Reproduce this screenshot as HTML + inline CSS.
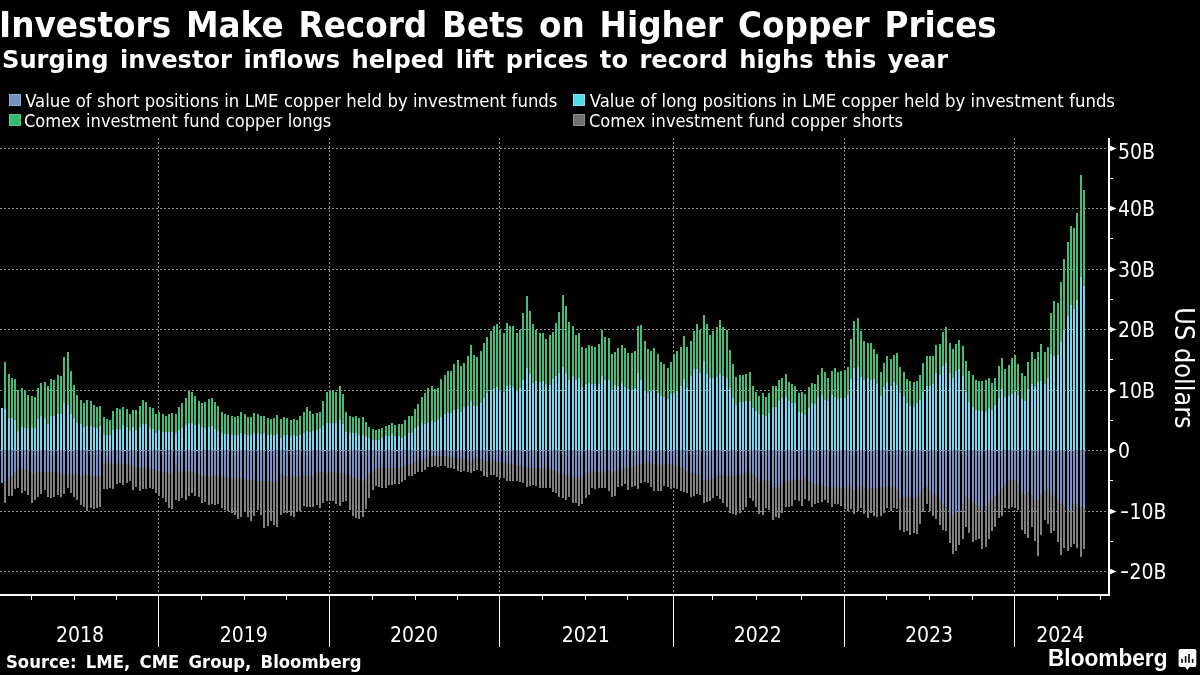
<!DOCTYPE html>
<html lang="en"><head><meta charset="utf-8"><title>Investors Make Record Bets on Higher Copper Prices</title>
<style>
html,body{margin:0;padding:0;background:#000;}
body{width:1200px;height:675px;position:relative;overflow:hidden;color:#fff;font-family:"DejaVu Sans","Liberation Sans",sans-serif;}
.t{position:absolute;white-space:nowrap;line-height:1;}
#title{left:-0.8px;top:7.2px;font-weight:bold;font-size:35.2px;word-spacing:3.64px;transform:scaleX(0.9298);transform-origin:0 0;}
#sub{left:2px;top:47px;font-weight:bold;font-size:25.4px;word-spacing:3.2px;transform:scaleX(0.9511);transform-origin:0 0;}
.lg{position:absolute;white-space:nowrap;line-height:1;font-family:"DejaVu Sans Condensed","DejaVu Sans","Liberation Sans",sans-serif;font-size:18.35px;word-spacing:0.5px;transform:scaleX(0.985);transform-origin:0 0;}
.sw{position:absolute;width:12px;height:12px;box-sizing:border-box;border:1px solid;}
.yl{position:absolute;left:1118px;white-space:nowrap;font-family:"DejaVu Sans Condensed","DejaVu Sans","Liberation Sans",sans-serif;font-size:21px;line-height:25px;height:25px;}
.xl{position:absolute;top:623px;width:80px;text-align:center;white-space:nowrap;font-family:"DejaVu Sans Condensed","DejaVu Sans","Liberation Sans",sans-serif;font-size:21px;line-height:25px;}
#usd{position:absolute;left:1183.7px;top:367.8px;width:0;height:0;}
#usd span{position:absolute;white-space:nowrap;font-family:"DejaVu Sans Condensed","DejaVu Sans","Liberation Sans",sans-serif;font-size:26.8px;line-height:26.8px;transform:translate(-50%,-50%) rotate(90deg);transform-origin:center;display:block;left:0;top:0;}
#src{left:5.5px;top:652.8px;font-weight:bold;font-size:17.8px;word-spacing:3.78px;transform:scaleX(0.9271);transform-origin:0 0;}
#bb{left:1047.7px;top:646.2px;font-family:"Liberation Sans",sans-serif;font-weight:bold;font-size:24.2px;transform:scaleX(0.936);transform-origin:0 0;}
</style></head><body>
<svg width="1200" height="675" viewBox="0 0 1200 675" style="position:absolute;left:0;top:0"><g stroke="#969696" stroke-width="1" stroke-dasharray="2 2" shape-rendering="crispEdges" fill="none"><path d="M0 148.5H1108"/><path d="M0 208.5H1108"/><path d="M0 269.5H1108"/><path d="M0 329.5H1108"/><path d="M0 390.5H1108"/><path d="M0 450.5H1108"/><path d="M0 511.5H1108"/><path d="M0 571.5H1108"/><path d="M158.5 138V594"/><path d="M329.5 138V594"/><path d="M499.5 138V594"/><path d="M673.5 138V594"/><path d="M844.5 138V594"/><path d="M1014.5 138V594"/></g><g shape-rendering="crispEdges"><path fill="#44bd79" d="M4 361.7v47.5h2v-47.5zM8 374.2v43.3h2v-43.3zM11 378.0v40.3h2v-40.3zM14 379.2v40.8h2v-40.8zM17 390.0v41.7h2v-41.7zM21 388.3v38.4h2v-38.4zM24 390.5v37.0h2v-37.0zM27 395.0v33.3h2v-33.3zM31 396.3v30.4h2v-30.4zM34 397.0v31.0h2v-31.0zM37 388.3v30.9h2v-30.9zM40 383.0v32.8h2v-32.8zM44 382.0v35.5h2v-35.5zM47 385.8v38.4h2v-38.4zM50 379.2v36.6h2v-36.6zM53 380.0v35.8h2v-35.8zM57 375.0v39.2h2v-39.2zM60 375.8v38.4h2v-38.4zM63 357.2v45.8h2v-45.8zM67 352.0v53.0h2v-53.0zM70 370.8v43.4h2v-43.4zM73 385.0v33.3h2v-33.3zM76 395.0v27.5h2v-27.5zM80 400.0v24.2h2v-24.2zM83 403.0v23.7h2v-23.7zM86 400.0v25.8h2v-25.8zM90 401.3v24.5h2v-24.5zM93 405.0v21.7h2v-21.7zM96 407.0v20.5h2v-20.5zM99 406.2v20.1h2v-20.1zM103 417.0v18.3h2v-18.3zM106 419.2v15.8h2v-15.8zM109 420.0v15.0h2v-15.0zM112 410.8v19.2h2v-19.2zM116 408.0v21.2h2v-21.2zM119 408.7v21.3h2v-21.3zM122 407.0v18.0h2v-18.0zM126 409.2v17.5h2v-17.5zM129 414.2v16.6h2v-16.6zM132 410.0v16.7h2v-16.7zM135 410.0v20.0h2v-20.0zM139 405.8v20.9h2v-20.9zM142 400.0v24.2h2v-24.2zM145 402.0v22.2h2v-22.2zM149 407.0v20.5h2v-20.5zM152 408.0v21.2h2v-21.2zM155 414.2v18.8h2v-18.8zM158 411.7v18.3h2v-18.3zM162 414.2v17.5h2v-17.5zM165 415.8v16.2h2v-16.2zM168 414.2v17.5h2v-17.5zM171 413.0v19.0h2v-19.0zM175 414.2v19.1h2v-19.1zM178 407.0v23.0h2v-23.0zM181 403.0v25.3h2v-25.3zM185 398.0v27.0h2v-27.0zM188 390.0v32.5h2v-32.5zM191 392.0v31.0h2v-31.0zM194 396.2v28.8h2v-28.8zM198 401.2v23.0h2v-23.0zM201 403.3v23.4h2v-23.4zM204 402.0v25.5h2v-25.5zM208 399.2v27.5h2v-27.5zM211 398.3v28.0h2v-28.0zM214 402.0v26.8h2v-26.8zM217 406.2v24.6h2v-24.6zM221 412.2v20.8h2v-20.8zM224 413.8v19.9h2v-19.9zM227 415.0v19.2h2v-19.2zM231 415.8v19.2h2v-19.2zM234 417.0v18.0h2v-18.0zM237 415.8v19.2h2v-19.2zM240 412.2v20.3h2v-20.3zM244 414.2v19.5h2v-19.5zM247 417.0v18.0h2v-18.0zM250 417.0v18.0h2v-18.0zM253 413.0v20.0h2v-20.0zM257 414.2v19.1h2v-19.1zM260 415.8v17.9h2v-17.9zM263 415.8v17.2h2v-17.2zM267 418.0v17.0h2v-17.0zM270 419.2v15.8h2v-15.8zM273 418.0v17.0h2v-17.0zM276 415.3v18.4h2v-18.4zM280 419.2v19.1h2v-19.1zM283 417.0v18.3h2v-18.3zM286 418.0v17.3h2v-17.3zM290 420.0v15.8h2v-15.8zM293 419.2v15.8h2v-15.8zM296 420.0v15.8h2v-15.8zM299 416.2v18.8h2v-18.8zM303 412.0v21.3h2v-21.3zM306 407.0v23.8h2v-23.8zM309 411.2v20.5h2v-20.5zM312 413.8v17.0h2v-17.0zM316 413.0v17.0h2v-17.0zM319 412.0v17.2h2v-17.2zM322 401.2v25.0h2v-25.0zM326 392.0v30.8h2v-30.8zM329 390.0v32.5h2v-32.5zM332 390.5v32.3h2v-32.3zM335 392.0v30.8h2v-30.8zM339 386.2v33.8h2v-33.8zM342 394.2v30.0h2v-30.0zM345 412.0v19.7h2v-19.7zM349 416.2v16.8h2v-16.8zM352 417.0v16.0h2v-16.0zM355 416.2v17.1h2v-17.1zM358 418.0v17.0h2v-17.0zM362 417.0v18.0h2v-18.0zM365 422.0v13.8h2v-13.8zM368 427.0v11.3h2v-11.3zM372 429.2v10.3h2v-10.3zM375 430.0v10.0h2v-10.0zM378 429.2v10.3h2v-10.3zM381 428.3v10.0h2v-10.0zM385 426.2v10.1h2v-10.1zM388 425.0v10.8h2v-10.8zM391 423.0v11.2h2v-11.2zM394 425.0v10.8h2v-10.8zM398 424.2v11.6h2v-11.6zM401 424.2v13.3h2v-13.3zM404 420.0v15.8h2v-15.8zM408 416.2v17.1h2v-17.1zM411 416.2v16.3h2v-16.3zM414 409.2v18.3h2v-18.3zM417 404.2v21.6h2v-21.6zM421 397.2v26.1h2v-26.1zM424 393.0v30.8h2v-30.8zM427 388.3v34.5h2v-34.5zM431 386.3v34.9h2v-34.9zM434 389.2v32.5h2v-32.5zM437 388.3v32.0h2v-32.0zM440 379.2v37.5h2v-37.5zM444 375.0v39.2h2v-39.2zM447 371.3v41.2h2v-41.2zM450 371.3v41.5h2v-41.5zM453 364.2v46.1h2v-46.1zM457 360.3v48.9h2v-48.9zM460 366.2v45.5h2v-45.5zM463 363.3v43.4h2v-43.4zM467 356.2v49.3h2v-49.3zM470 345.0v56.2h2v-56.2zM473 355.3v50.5h2v-50.5zM476 357.2v49.0h2v-49.0zM480 351.2v51.3h2v-51.3zM483 343.3v55.0h2v-55.0zM486 337.2v55.8h2v-55.8zM490 330.8v59.2h2v-59.2zM493 326.2v61.6h2v-61.6zM496 324.2v63.0h2v-63.0zM499 329.5v61.3h2v-61.3zM503 333.0v58.7h2v-58.7zM506 323.0v62.8h2v-62.8zM509 325.8v58.9h2v-58.9zM512 325.8v61.2h2v-61.2zM516 333.0v57.8h2v-57.8zM519 330.0v58.3h2v-58.3zM522 313.0v67.0h2v-67.0zM526 296.2v71.8h2v-71.8zM529 311.2v63.0h2v-63.0zM532 324.2v58.3h2v-58.3zM535 330.0v51.3h2v-51.3zM539 333.3v48.4h2v-48.4zM542 333.3v47.5h2v-47.5zM545 339.2v45.0h2v-45.0zM549 335.0v49.7h2v-49.7zM552 332.2v47.0h2v-47.0zM555 323.0v52.8h2v-52.8zM558 312.0v60.8h2v-60.8zM562 295.0v72.0h2v-72.0zM565 306.2v66.3h2v-66.3zM568 322.2v57.3h2v-57.3zM572 326.2v49.6h2v-49.6zM575 335.0v45.0h2v-45.0zM578 333.3v45.0h2v-45.0zM581 347.2v39.5h2v-39.5zM585 348.0v36.2h2v-36.2zM588 345.3v38.0h2v-38.0zM591 346.3v37.9h2v-37.9zM594 347.2v36.5h2v-36.5zM598 344.0v39.7h2v-39.7zM601 329.5v46.3h2v-46.3zM604 337.2v42.8h2v-42.8zM608 338.3v41.7h2v-41.7zM611 354.2v35.8h2v-35.8zM614 352.0v33.0h2v-33.0zM617 348.3v37.5h2v-37.5zM621 345.0v38.0h2v-38.0zM624 348.0v39.0h2v-39.0zM627 353.0v36.2h2v-36.2zM631 353.0v37.0h2v-37.0zM634 351.2v37.1h2v-37.1zM637 326.2v47.1h2v-47.1zM640 325.0v54.5h2v-54.5zM644 341.2v49.6h2v-49.6zM647 349.2v43.3h2v-43.3zM650 351.2v39.6h2v-39.6zM653 348.0v42.0h2v-42.0zM657 354.2v39.1h2v-39.1zM660 362.0v33.8h2v-33.8zM663 364.2v32.5h2v-32.5zM667 368.0v31.2h2v-31.2zM670 362.0v32.2h2v-32.2zM673 354.2v38.3h2v-38.3zM676 351.2v39.6h2v-39.6zM680 347.2v38.6h2v-38.6zM683 336.2v43.0h2v-43.0zM686 347.2v40.3h2v-40.3zM690 341.2v34.6h2v-34.6zM693 330.8v38.4h2v-38.4zM696 324.2v45.0h2v-45.0zM699 329.5v43.8h2v-43.8zM703 315.0v45.8h2v-45.8zM706 324.2v50.0h2v-50.0zM709 335.0v43.0h2v-43.0zM712 330.8v47.2h2v-47.2zM716 327.0v50.0h2v-50.0zM719 320.0v54.2h2v-54.2zM722 327.0v48.8h2v-48.8zM726 330.0v48.0h2v-48.0zM729 350.0v38.3h2v-38.3zM732 364.2v33.3h2v-33.3zM735 377.0v28.0h2v-28.0zM739 375.0v26.7h2v-26.7zM742 375.0v27.0h2v-27.0zM745 374.2v27.1h2v-27.1zM749 372.0v29.3h2v-29.3zM752 386.2v21.8h2v-21.8zM755 392.0v18.8h2v-18.8zM758 395.8v18.4h2v-18.4zM762 393.0v22.3h2v-22.3zM765 397.0v19.2h2v-19.2zM768 393.0v20.3h2v-20.3zM772 385.8v21.2h2v-21.2zM775 386.2v20.5h2v-20.5zM778 380.0v20.8h2v-20.8zM781 378.0v20.3h2v-20.3zM785 374.2v22.5h2v-22.5zM788 382.0v19.3h2v-19.3zM791 384.2v18.3h2v-18.3zM794 386.2v17.1h2v-17.1zM798 393.0v18.7h2v-18.7zM801 392.0v20.8h2v-20.8zM804 394.2v20.8h2v-20.8zM808 387.0v20.5h2v-20.5zM811 383.0v20.0h2v-20.0zM814 384.2v19.6h2v-19.6zM817 375.3v21.4h2v-21.4zM821 368.0v27.0h2v-27.0zM824 372.0v28.0h2v-28.0zM827 378.0v23.2h2v-23.2zM831 371.2v23.8h2v-23.8zM834 368.0v28.7h2v-28.7zM837 372.0v27.2h2v-27.2zM840 371.2v26.8h2v-26.8zM844 370.0v27.5h2v-27.5zM847 367.0v28.0h2v-28.0zM850 339.2v39.5h2v-39.5zM853 321.2v46.8h2v-46.8zM857 318.0v49.0h2v-49.0zM860 331.2v45.8h2v-45.8zM863 341.2v38.8h2v-38.8zM867 343.0v35.3h2v-35.3zM870 343.0v37.0h2v-37.0zM873 349.2v30.0h2v-30.0zM876 354.2v30.0h2v-30.0zM880 372.0v24.2h2v-24.2zM883 363.0v23.7h2v-23.7zM886 356.2v26.0h2v-26.0zM890 359.2v27.0h2v-27.0zM893 355.0v26.7h2v-26.7zM896 353.0v32.0h2v-32.0zM899 367.0v26.3h2v-26.3zM903 372.0v24.2h2v-24.2zM906 379.2v23.8h2v-23.8zM909 381.2v24.6h2v-24.6zM913 382.0v25.0h2v-25.0zM916 381.2v22.1h2v-22.1zM919 375.0v25.0h2v-25.0zM922 363.0v28.7h2v-28.7zM926 356.2v29.6h2v-29.6zM929 356.2v29.6h2v-29.6zM932 356.2v28.0h2v-28.0zM935 345.0v28.0h2v-28.0zM939 344.2v30.8h2v-30.8zM942 332.0v33.8h2v-33.8zM945 327.0v36.0h2v-36.0zM949 343.0v30.0h2v-30.0zM952 348.8v29.2h2v-29.2zM955 344.2v26.6h2v-26.6zM958 340.0v28.7h2v-28.7zM962 346.2v29.6h2v-29.6zM965 361.2v30.5h2v-30.5zM968 371.2v30.8h2v-30.8zM972 375.0v32.0h2v-32.0zM975 380.0v30.0h2v-30.0zM978 381.2v30.0h2v-30.0zM981 381.2v30.0h2v-30.0zM985 380.0v31.7h2v-31.7zM988 378.0v30.3h2v-30.3zM991 383.0v27.0h2v-27.0zM994 378.0v27.0h2v-27.0zM998 366.2v31.3h2v-31.3zM1001 358.3v30.7h2v-30.7zM1004 369.0v28.3h2v-28.3zM1008 365.2v30.4h2v-30.4zM1011 357.9v36.0h2v-36.0zM1014 355.3v36.2h2v-36.2zM1017 364.1v30.7h2v-30.7zM1021 373.2v25.7h2v-25.7zM1024 376.0v24.6h2v-24.6zM1027 361.9v27.1h2v-27.1zM1031 352.1v31.9h2v-31.9zM1034 359.1v28.2h2v-28.2zM1037 352.1v29.4h2v-29.4zM1040 344.1v36.6h2v-36.6zM1044 352.1v31.9h2v-31.9zM1047 347.0v31.2h2v-31.2zM1050 313v41.1h2v-41.1zM1053 301v54.8h2v-54.8zM1057 303v51.9h2v-51.9zM1060 281.8v60.2h2v-60.2zM1063 259v70.6h2v-70.6zM1067 242.1v73.4h2v-73.4zM1070 226v78.7h2v-78.7zM1073 228v80.9h2v-80.9zM1076 213.1v86.7h2v-86.7zM1080 175.3v102.1h2v-102.1zM1083 190.2v95.5h2v-95.5z"/><path fill="#76d8f0" d="M1 408.0v42.0h2v-42.0zM4 409.2v40.8h2v-40.8zM8 417.5v32.5h2v-32.5zM11 418.3v31.7h2v-31.7zM14 420.0v30.0h2v-30.0zM17 431.7v18.3h2v-18.3zM21 426.7v23.3h2v-23.3zM24 427.5v22.5h2v-22.5zM27 428.3v21.7h2v-21.7zM31 426.7v23.3h2v-23.3zM34 428.0v22.0h2v-22.0zM37 419.2v30.8h2v-30.8zM40 415.8v34.2h2v-34.2zM44 417.5v32.5h2v-32.5zM47 424.2v25.8h2v-25.8zM50 415.8v34.2h2v-34.2zM53 415.8v34.2h2v-34.2zM57 414.2v35.8h2v-35.8zM60 414.2v35.8h2v-35.8zM63 403.0v47.0h2v-47.0zM67 405.0v45.0h2v-45.0zM70 414.2v35.8h2v-35.8zM73 418.3v31.7h2v-31.7zM76 422.5v27.5h2v-27.5zM80 424.2v25.8h2v-25.8zM83 426.7v23.3h2v-23.3zM86 425.8v24.2h2v-24.2zM90 425.8v24.2h2v-24.2zM93 426.7v23.3h2v-23.3zM96 427.5v22.5h2v-22.5zM99 426.3v23.7h2v-23.7zM103 435.3v14.7h2v-14.7zM106 435.0v15.0h2v-15.0zM109 435.0v15.0h2v-15.0zM112 430.0v20.0h2v-20.0zM116 429.2v20.8h2v-20.8zM119 430.0v20.0h2v-20.0zM122 425.0v25.0h2v-25.0zM126 426.7v23.3h2v-23.3zM129 430.8v19.2h2v-19.2zM132 426.7v23.3h2v-23.3zM135 430.0v20.0h2v-20.0zM139 426.7v23.3h2v-23.3zM142 424.2v25.8h2v-25.8zM145 424.2v25.8h2v-25.8zM149 427.5v22.5h2v-22.5zM152 429.2v20.8h2v-20.8zM155 433.0v17.0h2v-17.0zM158 430.0v20.0h2v-20.0zM162 431.7v18.3h2v-18.3zM165 432.0v18.0h2v-18.0zM168 431.7v18.3h2v-18.3zM171 432.0v18.0h2v-18.0zM175 433.3v16.7h2v-16.7zM178 430.0v20.0h2v-20.0zM181 428.3v21.7h2v-21.7zM185 425.0v25.0h2v-25.0zM188 422.5v27.5h2v-27.5zM191 423.0v27.0h2v-27.0zM194 425.0v25.0h2v-25.0zM198 424.2v25.8h2v-25.8zM201 426.7v23.3h2v-23.3zM204 427.5v22.5h2v-22.5zM208 426.7v23.3h2v-23.3zM211 426.3v23.7h2v-23.7zM214 428.8v21.2h2v-21.2zM217 430.8v19.2h2v-19.2zM221 433.0v17.0h2v-17.0zM224 433.7v16.3h2v-16.3zM227 434.2v15.8h2v-15.8zM231 435.0v15.0h2v-15.0zM234 435.0v15.0h2v-15.0zM237 435.0v15.0h2v-15.0zM240 432.5v17.5h2v-17.5zM244 433.7v16.3h2v-16.3zM247 435.0v15.0h2v-15.0zM250 435.0v15.0h2v-15.0zM253 433.0v17.0h2v-17.0zM257 433.3v16.7h2v-16.7zM260 433.7v16.3h2v-16.3zM263 433.0v17.0h2v-17.0zM267 435.0v15.0h2v-15.0zM270 435.0v15.0h2v-15.0zM273 435.0v15.0h2v-15.0zM276 433.7v16.3h2v-16.3zM280 438.3v11.7h2v-11.7zM283 435.3v14.7h2v-14.7zM286 435.3v14.7h2v-14.7zM290 435.8v14.2h2v-14.2zM293 435.0v15.0h2v-15.0zM296 435.8v14.2h2v-14.2zM299 435.0v15.0h2v-15.0zM303 433.3v16.7h2v-16.7zM306 430.8v19.2h2v-19.2zM309 431.7v18.3h2v-18.3zM312 430.8v19.2h2v-19.2zM316 430.0v20.0h2v-20.0zM319 429.2v20.8h2v-20.8zM322 426.2v23.8h2v-23.8zM326 422.8v27.2h2v-27.2zM329 422.5v27.5h2v-27.5zM332 422.8v27.2h2v-27.2zM335 422.8v27.2h2v-27.2zM339 420.0v30.0h2v-30.0zM342 424.2v25.8h2v-25.8zM345 431.7v18.3h2v-18.3zM349 433.0v17.0h2v-17.0zM352 433.0v17.0h2v-17.0zM355 433.3v16.7h2v-16.7zM358 435.0v15.0h2v-15.0zM362 435.0v15.0h2v-15.0zM365 435.8v14.2h2v-14.2zM368 438.3v11.7h2v-11.7zM372 439.5v10.5h2v-10.5zM375 440.0v10.0h2v-10.0zM378 439.5v10.5h2v-10.5zM381 438.3v11.7h2v-11.7zM385 436.3v13.7h2v-13.7zM388 435.8v14.2h2v-14.2zM391 434.2v15.8h2v-15.8zM394 435.8v14.2h2v-14.2zM398 435.8v14.2h2v-14.2zM401 437.5v12.5h2v-12.5zM404 435.8v14.2h2v-14.2zM408 433.3v16.7h2v-16.7zM411 432.5v17.5h2v-17.5zM414 427.5v22.5h2v-22.5zM417 425.8v24.2h2v-24.2zM421 423.3v26.7h2v-26.7zM424 423.8v26.2h2v-26.2zM427 422.8v27.2h2v-27.2zM431 421.2v28.8h2v-28.8zM434 421.7v28.3h2v-28.3zM437 420.3v29.7h2v-29.7zM440 416.7v33.3h2v-33.3zM444 414.2v35.8h2v-35.8zM447 412.5v37.5h2v-37.5zM450 412.8v37.2h2v-37.2zM453 410.3v39.7h2v-39.7zM457 409.2v40.8h2v-40.8zM460 411.7v38.3h2v-38.3zM463 406.7v43.3h2v-43.3zM467 405.5v44.5h2v-44.5zM470 401.2v48.8h2v-48.8zM473 405.8v44.2h2v-44.2zM476 406.2v43.8h2v-43.8zM480 402.5v47.5h2v-47.5zM483 398.3v51.7h2v-51.7zM486 393.0v57.0h2v-57.0zM490 390.0v60.0h2v-60.0zM493 387.8v62.2h2v-62.2zM496 387.2v62.8h2v-62.8zM499 390.8v59.2h2v-59.2zM503 391.7v58.3h2v-58.3zM506 385.8v64.2h2v-64.2zM509 384.7v65.3h2v-65.3zM512 387.0v63.0h2v-63.0zM516 390.8v59.2h2v-59.2zM519 388.3v61.7h2v-61.7zM522 380.0v70.0h2v-70.0zM526 368.0v82.0h2v-82.0zM529 374.2v75.8h2v-75.8zM532 382.5v67.5h2v-67.5zM535 381.3v68.7h2v-68.7zM539 381.7v68.3h2v-68.3zM542 380.8v69.2h2v-69.2zM545 384.2v65.8h2v-65.8zM549 384.7v65.3h2v-65.3zM552 379.2v70.8h2v-70.8zM555 375.8v74.2h2v-74.2zM558 372.8v77.2h2v-77.2zM562 367.0v83.0h2v-83.0zM565 372.5v77.5h2v-77.5zM568 379.5v70.5h2v-70.5zM572 375.8v74.2h2v-74.2zM575 380.0v70.0h2v-70.0zM578 378.3v71.7h2v-71.7zM581 386.7v63.3h2v-63.3zM585 384.2v65.8h2v-65.8zM588 383.3v66.7h2v-66.7zM591 384.2v65.8h2v-65.8zM594 383.7v66.3h2v-66.3zM598 383.7v66.3h2v-66.3zM601 375.8v74.2h2v-74.2zM604 380.0v70.0h2v-70.0zM608 380.0v70.0h2v-70.0zM611 390.0v60.0h2v-60.0zM614 385.0v65.0h2v-65.0zM617 385.8v64.2h2v-64.2zM621 383.0v67.0h2v-67.0zM624 387.0v63.0h2v-63.0zM627 389.2v60.8h2v-60.8zM631 390.0v60.0h2v-60.0zM634 388.3v61.7h2v-61.7zM637 373.3v76.7h2v-76.7zM640 379.5v70.5h2v-70.5zM644 390.8v59.2h2v-59.2zM647 392.5v57.5h2v-57.5zM650 390.8v59.2h2v-59.2zM653 390.0v60.0h2v-60.0zM657 393.3v56.7h2v-56.7zM660 395.8v54.2h2v-54.2zM663 396.7v53.3h2v-53.3zM667 399.2v50.8h2v-50.8zM670 394.2v55.8h2v-55.8zM673 392.5v57.5h2v-57.5zM676 390.8v59.2h2v-59.2zM680 385.8v64.2h2v-64.2zM683 379.2v70.8h2v-70.8zM686 387.5v62.5h2v-62.5zM690 375.8v74.2h2v-74.2zM693 369.2v80.8h2v-80.8zM696 369.2v80.8h2v-80.8zM699 373.3v76.7h2v-76.7zM703 360.8v89.2h2v-89.2zM706 374.2v75.8h2v-75.8zM709 378.0v72.0h2v-72.0zM712 378.0v72.0h2v-72.0zM716 377.0v73.0h2v-73.0zM719 374.2v75.8h2v-75.8zM722 375.8v74.2h2v-74.2zM726 378.0v72.0h2v-72.0zM729 388.3v61.7h2v-61.7zM732 397.5v52.5h2v-52.5zM735 405.0v45.0h2v-45.0zM739 401.7v48.3h2v-48.3zM742 402.0v48.0h2v-48.0zM745 401.3v48.7h2v-48.7zM749 401.3v48.7h2v-48.7zM752 408.0v42.0h2v-42.0zM755 410.8v39.2h2v-39.2zM758 414.2v35.8h2v-35.8zM762 415.3v34.7h2v-34.7zM765 416.2v33.8h2v-33.8zM768 413.3v36.7h2v-36.7zM772 407.0v43.0h2v-43.0zM775 406.7v43.3h2v-43.3zM778 400.8v49.2h2v-49.2zM781 398.3v51.7h2v-51.7zM785 396.7v53.3h2v-53.3zM788 401.3v48.7h2v-48.7zM791 402.5v47.5h2v-47.5zM794 403.3v46.7h2v-46.7zM798 411.7v38.3h2v-38.3zM801 412.8v37.2h2v-37.2zM804 415.0v35.0h2v-35.0zM808 407.5v42.5h2v-42.5zM811 403.0v47.0h2v-47.0zM814 403.8v46.2h2v-46.2zM817 396.7v53.3h2v-53.3zM821 395.0v55.0h2v-55.0zM824 400.0v50.0h2v-50.0zM827 401.2v48.8h2v-48.8zM831 395.0v55.0h2v-55.0zM834 396.7v53.3h2v-53.3zM837 399.2v50.8h2v-50.8zM840 398.0v52.0h2v-52.0zM844 397.5v52.5h2v-52.5zM847 395.0v55.0h2v-55.0zM850 378.7v71.3h2v-71.3zM853 368.0v82.0h2v-82.0zM857 367.0v83.0h2v-83.0zM860 377.0v73.0h2v-73.0zM863 380.0v70.0h2v-70.0zM867 378.3v71.7h2v-71.7zM870 380.0v70.0h2v-70.0zM873 379.2v70.8h2v-70.8zM876 384.2v65.8h2v-65.8zM880 396.2v53.8h2v-53.8zM883 386.7v63.3h2v-63.3zM886 382.2v67.8h2v-67.8zM890 386.2v63.8h2v-63.8zM893 381.7v68.3h2v-68.3zM896 385.0v65.0h2v-65.0zM899 393.3v56.7h2v-56.7zM903 396.2v53.8h2v-53.8zM906 403.0v47.0h2v-47.0zM909 405.8v44.2h2v-44.2zM913 407.0v43.0h2v-43.0zM916 403.3v46.7h2v-46.7zM919 400.0v50.0h2v-50.0zM922 391.7v58.3h2v-58.3zM926 385.8v64.2h2v-64.2zM929 385.8v64.2h2v-64.2zM932 384.2v65.8h2v-65.8zM935 373.0v77.0h2v-77.0zM939 375.0v75.0h2v-75.0zM942 365.8v84.2h2v-84.2zM945 363.0v87.0h2v-87.0zM949 373.0v77.0h2v-77.0zM952 378.0v72.0h2v-72.0zM955 370.8v79.2h2v-79.2zM958 368.7v81.3h2v-81.3zM962 375.8v74.2h2v-74.2zM965 391.7v58.3h2v-58.3zM968 402.0v48.0h2v-48.0zM972 407.0v43.0h2v-43.0zM975 410.0v40.0h2v-40.0zM978 411.2v38.8h2v-38.8zM981 411.2v38.8h2v-38.8zM985 411.7v38.3h2v-38.3zM988 408.3v41.7h2v-41.7zM991 410.0v40.0h2v-40.0zM994 405.0v45.0h2v-45.0zM998 397.5v52.5h2v-52.5zM1001 389.0v61.0h2v-61.0zM1004 397.3v52.7h2v-52.7zM1008 395.6v54.4h2v-54.4zM1011 393.9v56.1h2v-56.1zM1014 391.5v58.5h2v-58.5zM1017 394.8v55.2h2v-55.2zM1021 398.9v51.1h2v-51.1zM1024 400.6v49.4h2v-49.4zM1027 389.0v61.0h2v-61.0zM1031 384.0v66.0h2v-66.0zM1034 387.3v62.7h2v-62.7zM1037 381.5v68.5h2v-68.5zM1040 380.7v69.3h2v-69.3zM1044 384.0v66.0h2v-66.0zM1047 378.2v71.8h2v-71.8zM1050 354.1v95.9h2v-95.9zM1053 355.8v94.2h2v-94.2zM1057 354.9v95.1h2v-95.1zM1060 342v108.0h2v-108.0zM1063 329.6v120.4h2v-120.4zM1067 315.5v134.5h2v-134.5zM1070 304.7v145.3h2v-145.3zM1073 308.9v141.1h2v-141.1zM1076 299.8v150.2h2v-150.2zM1080 277.4v172.6h2v-172.6zM1083 285.7v164.3h2v-164.3z"/><path fill="#7b90c4" d="M1 450.0v33.0h2v-33.0zM4 450.0v31.3h2v-31.3zM8 450.0v27.2h2v-27.2zM11 450.0v25.5h2v-25.5zM14 450.0v22.2h2v-22.2zM17 450.0v18.0h2v-18.0zM21 450.0v18.8h2v-18.8zM24 450.0v18.8h2v-18.8zM27 450.0v19.7h2v-19.7zM31 450.0v23.0h2v-23.0zM34 450.0v23.0h2v-23.0zM37 450.0v22.2h2v-22.2zM40 450.0v22.2h2v-22.2zM44 450.0v22.2h2v-22.2zM47 450.0v22.2h2v-22.2zM50 450.0v22.2h2v-22.2zM53 450.0v22.2h2v-22.2zM57 450.0v22.2h2v-22.2zM60 450.0v23.0h2v-23.0zM63 450.0v23.8h2v-23.8zM67 450.0v23.8h2v-23.8zM70 450.0v23.8h2v-23.8zM73 450.0v24.7h2v-24.7zM76 450.0v24.7h2v-24.7zM80 450.0v25.5h2v-25.5zM83 450.0v24.7h2v-24.7zM86 450.0v24.7h2v-24.7zM90 450.0v24.7h2v-24.7zM93 450.0v25.5h2v-25.5zM96 450.0v26.3h2v-26.3zM99 450.0v26.3h2v-26.3zM103 450.0v13.0h2v-13.0zM106 450.0v12.2h2v-12.2zM109 450.0v12.7h2v-12.7zM112 450.0v13.8h2v-13.8zM116 450.0v13.3h2v-13.3zM119 450.0v13.3h2v-13.3zM122 450.0v14.2h2v-14.2zM126 450.0v14.2h2v-14.2zM129 450.0v14.7h2v-14.7zM132 450.0v16.0h2v-16.0zM135 450.0v16.7h2v-16.7zM139 450.0v17.2h2v-17.2zM142 450.0v17.7h2v-17.7zM145 450.0v18.0h2v-18.0zM149 450.0v18.3h2v-18.3zM152 450.0v18.8h2v-18.8zM155 450.0v19.7h2v-19.7zM158 450.0v20.5h2v-20.5zM162 450.0v21.0h2v-21.0zM165 450.0v21.7h2v-21.7zM168 450.0v22.7h2v-22.7zM171 450.0v23.0h2v-23.0zM175 450.0v13.8h2v-13.8zM178 450.0v22.2h2v-22.2zM181 450.0v21.3h2v-21.3zM185 450.0v20.5h2v-20.5zM188 450.0v20.5h2v-20.5zM191 450.0v20.5h2v-20.5zM194 450.0v23.0h2v-23.0zM198 450.0v23.8h2v-23.8zM201 450.0v25.5h2v-25.5zM204 450.0v24.7h2v-24.7zM208 450.0v26.3h2v-26.3zM211 450.0v25.5h2v-25.5zM214 450.0v24.7h2v-24.7zM217 450.0v24.7h2v-24.7zM221 450.0v25.5h2v-25.5zM224 450.0v26.3h2v-26.3zM227 450.0v26.7h2v-26.7zM231 450.0v28.0h2v-28.0zM234 450.0v28.0h2v-28.0zM237 450.0v28.0h2v-28.0zM240 450.0v27.7h2v-27.7zM244 450.0v28.8h2v-28.8zM247 450.0v29.7h2v-29.7zM250 450.0v29.7h2v-29.7zM253 450.0v29.7h2v-29.7zM257 450.0v30.5h2v-30.5zM260 450.0v31.3h2v-31.3zM263 450.0v31.3h2v-31.3zM267 450.0v31.3h2v-31.3zM270 450.0v31.3h2v-31.3zM273 450.0v32.2h2v-32.2zM276 450.0v30.5h2v-30.5zM280 450.0v23.8h2v-23.8zM283 450.0v25.5h2v-25.5zM286 450.0v26.3h2v-26.3zM290 450.0v26.3h2v-26.3zM293 450.0v27.2h2v-27.2zM296 450.0v27.2h2v-27.2zM299 450.0v26.3h2v-26.3zM303 450.0v24.7h2v-24.7zM306 450.0v25.5h2v-25.5zM309 450.0v25.5h2v-25.5zM312 450.0v24.7h2v-24.7zM316 450.0v23.0h2v-23.0zM319 450.0v22.2h2v-22.2zM322 450.0v22.2h2v-22.2zM326 450.0v22.7h2v-22.7zM329 450.0v22.2h2v-22.2zM332 450.0v22.2h2v-22.2zM335 450.0v22.7h2v-22.7zM339 450.0v23.0h2v-23.0zM342 450.0v23.0h2v-23.0zM345 450.0v23.8h2v-23.8zM349 450.0v25.5h2v-25.5zM352 450.0v27.2h2v-27.2zM355 450.0v28.8h2v-28.8zM358 450.0v30.0h2v-30.0zM362 450.0v31.0h2v-31.0zM365 450.0v28.0h2v-28.0zM368 450.0v23.0h2v-23.0zM372 450.0v19.7h2v-19.7zM375 450.0v18.3h2v-18.3zM378 450.0v18.0h2v-18.0zM381 450.0v18.0h2v-18.0zM385 450.0v18.0h2v-18.0zM388 450.0v17.7h2v-17.7zM391 450.0v17.7h2v-17.7zM394 450.0v17.7h2v-17.7zM398 450.0v17.7h2v-17.7zM401 450.0v17.2h2v-17.2zM404 450.0v16.3h2v-16.3zM408 450.0v14.2h2v-14.2zM411 450.0v14.2h2v-14.2zM414 450.0v12.2h2v-12.2zM417 450.0v10.5h2v-10.5zM421 450.0v9.7h2v-9.7zM424 450.0v8.8h2v-8.8zM427 450.0v7.2h2v-7.2zM431 450.0v6.3h2v-6.3zM434 450.0v6.0h2v-6.0zM437 450.0v6.3h2v-6.3zM440 450.0v6.0h2v-6.0zM444 450.0v6.3h2v-6.3zM447 450.0v7.2h2v-7.2zM450 450.0v7.7h2v-7.7zM453 450.0v8.0h2v-8.0zM457 450.0v8.8h2v-8.8zM460 450.0v9.3h2v-9.3zM463 450.0v9.7h2v-9.7zM467 450.0v10.0h2v-10.0zM470 450.0v10.5h2v-10.5zM473 450.0v9.3h2v-9.3zM476 450.0v8.8h2v-8.8zM480 450.0v9.3h2v-9.3zM483 450.0v11.0h2v-11.0zM486 450.0v11.3h2v-11.3zM490 450.0v11.0h2v-11.0zM493 450.0v11.0h2v-11.0zM496 450.0v11.7h2v-11.7zM499 450.0v12.2h2v-12.2zM503 450.0v12.7h2v-12.7zM506 450.0v13.3h2v-13.3zM509 450.0v13.8h2v-13.8zM512 450.0v14.2h2v-14.2zM516 450.0v14.7h2v-14.7zM519 450.0v15.0h2v-15.0zM522 450.0v15.5h2v-15.5zM526 450.0v17.2h2v-17.2zM529 450.0v17.7h2v-17.7zM532 450.0v17.7h2v-17.7zM535 450.0v17.7h2v-17.7zM539 450.0v17.7h2v-17.7zM542 450.0v17.7h2v-17.7zM545 450.0v17.7h2v-17.7zM549 450.0v18.0h2v-18.0zM552 450.0v19.7h2v-19.7zM555 450.0v20.5h2v-20.5zM558 450.0v22.7h2v-22.7zM562 450.0v23.8h2v-23.8zM565 450.0v25.0h2v-25.0zM568 450.0v24.7h2v-24.7zM572 450.0v27.2h2v-27.2zM575 450.0v27.7h2v-27.7zM578 450.0v28.0h2v-28.0zM581 450.0v26.7h2v-26.7zM585 450.0v23.0h2v-23.0zM588 450.0v21.7h2v-21.7zM591 450.0v19.7h2v-19.7zM594 450.0v20.5h2v-20.5zM598 450.0v21.8h2v-21.8zM601 450.0v23.0h2v-23.0zM604 450.0v21.3h2v-21.3zM608 450.0v19.7h2v-19.7zM611 450.0v23.0h2v-23.0zM614 450.0v21.3h2v-21.3zM617 450.0v19.3h2v-19.3zM621 450.0v19.3h2v-19.3zM624 450.0v18.3h2v-18.3zM627 450.0v18.3h2v-18.3zM631 450.0v17.2h2v-17.2zM634 450.0v16.0h2v-16.0zM637 450.0v14.7h2v-14.7zM640 450.0v13.8h2v-13.8zM644 450.0v12.7h2v-12.7zM647 450.0v12.2h2v-12.2zM650 450.0v13.0h2v-13.0zM653 450.0v14.2h2v-14.2zM657 450.0v14.7h2v-14.7zM660 450.0v14.7h2v-14.7zM663 450.0v13.8h2v-13.8zM667 450.0v13.8h2v-13.8zM670 450.0v14.2h2v-14.2zM673 450.0v14.7h2v-14.7zM676 450.0v15.5h2v-15.5zM680 450.0v17.2h2v-17.2zM683 450.0v18.0h2v-18.0zM686 450.0v20.5h2v-20.5zM690 450.0v22.7h2v-22.7zM693 450.0v23.0h2v-23.0zM696 450.0v23.8h2v-23.8zM699 450.0v23.8h2v-23.8zM703 450.0v29.7h2v-29.7zM706 450.0v30.0h2v-30.0zM709 450.0v28.8h2v-28.8zM712 450.0v27.7h2v-27.7zM716 450.0v26.3h2v-26.3zM719 450.0v24.7h2v-24.7zM722 450.0v24.7h2v-24.7zM726 450.0v25.5h2v-25.5zM729 450.0v25.5h2v-25.5zM732 450.0v25.5h2v-25.5zM735 450.0v24.7h2v-24.7zM739 450.0v24.3h2v-24.3zM742 450.0v23.8h2v-23.8zM745 450.0v23.0h2v-23.0zM749 450.0v21.3h2v-21.3zM752 450.0v23.8h2v-23.8zM755 450.0v27.2h2v-27.2zM758 450.0v30.5h2v-30.5zM762 450.0v31.3h2v-31.3zM765 450.0v30.0h2v-30.0zM768 450.0v31.3h2v-31.3zM772 450.0v37.2h2v-37.2zM775 450.0v36.7h2v-36.7zM778 450.0v35.5h2v-35.5zM781 450.0v33.0h2v-33.0zM785 450.0v30.5h2v-30.5zM788 450.0v30.5h2v-30.5zM791 450.0v30.0h2v-30.0zM794 450.0v28.8h2v-28.8zM798 450.0v29.7h2v-29.7zM801 450.0v28.8h2v-28.8zM804 450.0v27.2h2v-27.2zM808 450.0v30.5h2v-30.5zM811 450.0v32.2h2v-32.2zM814 450.0v33.8h2v-33.8zM817 450.0v34.3h2v-34.3zM821 450.0v35.0h2v-35.0zM824 450.0v36.0h2v-36.0zM827 450.0v37.2h2v-37.2zM831 450.0v38.8h2v-38.8zM834 450.0v37.2h2v-37.2zM837 450.0v37.2h2v-37.2zM840 450.0v38.0h2v-38.0zM844 450.0v38.8h2v-38.8zM847 450.0v37.2h2v-37.2zM850 450.0v37.2h2v-37.2zM853 450.0v39.7h2v-39.7zM857 450.0v38.8h2v-38.8zM860 450.0v35.5h2v-35.5zM863 450.0v37.2h2v-37.2zM867 450.0v39.7h2v-39.7zM870 450.0v38.0h2v-38.0zM873 450.0v38.0h2v-38.0zM876 450.0v38.0h2v-38.0zM880 450.0v37.2h2v-37.2zM883 450.0v36.7h2v-36.7zM886 450.0v36.3h2v-36.3zM890 450.0v37.2h2v-37.2zM893 450.0v36.7h2v-36.7zM896 450.0v38.8h2v-38.8zM899 450.0v48.0h2v-48.0zM903 450.0v47.7h2v-47.7zM906 450.0v47.2h2v-47.2zM909 450.0v47.2h2v-47.2zM913 450.0v48.0h2v-48.0zM916 450.0v47.2h2v-47.2zM919 450.0v43.8h2v-43.8zM922 450.0v38.0h2v-38.0zM926 450.0v37.2h2v-37.2zM929 450.0v41.7h2v-41.7zM932 450.0v43.3h2v-43.3zM935 450.0v45.0h2v-45.0zM939 450.0v49.7h2v-49.7zM942 450.0v53.8h2v-53.8zM945 450.0v56.3h2v-56.3zM949 450.0v61.3h2v-61.3zM952 450.0v64.7h2v-64.7zM955 450.0v62.2h2v-62.2zM958 450.0v62.2h2v-62.2zM962 450.0v53.8h2v-53.8zM965 450.0v45.5h2v-45.5zM968 450.0v48.8h2v-48.8zM972 450.0v51.7h2v-51.7zM975 450.0v54.7h2v-54.7zM978 450.0v56.7h2v-56.7zM981 450.0v58.8h2v-58.8zM985 450.0v55.5h2v-55.5zM988 450.0v52.2h2v-52.2zM991 450.0v49.7h2v-49.7zM994 450.0v46.3h2v-46.3zM998 450.0v43.0h2v-43.0zM1001 450.0v37.8h2v-37.8zM1004 450.0v32.9h2v-32.9zM1008 450.0v30.4h2v-30.4zM1011 450.0v29.9h2v-29.9zM1014 450.0v30.4h2v-30.4zM1017 450.0v33.7h2v-33.7zM1021 450.0v42.8h2v-42.8zM1024 450.0v45.3h2v-45.3zM1027 450.0v42.0h2v-42.0zM1031 450.0v44.5h2v-44.5zM1034 450.0v49.5h2v-49.5zM1037 450.0v50.3h2v-50.3zM1040 450.0v43.6h2v-43.6zM1044 450.0v40.8h2v-40.8zM1047 450.0v38.7h2v-38.7zM1050 450.0v44.5h2v-44.5zM1053 450.0v45.3h2v-45.3zM1057 450.0v51.1h2v-51.1zM1060 450.0v52.8h2v-52.8zM1063 450.0v55.3h2v-55.3zM1067 450.0v60.2h2v-60.2zM1070 450.0v61.1h2v-61.1zM1073 450.0v53.6h2v-53.6zM1076 450.0v54.4h2v-54.4zM1080 450.0v56.9h2v-56.9zM1083 450.0v57.8h2v-57.8z"/><path fill="#808080" d="M4 481.3v21.4h2v-21.4zM8 477.2v18.3h2v-18.3zM11 475.5v20.3h2v-20.3zM14 472.2v16.6h2v-16.6zM17 468.0v20.0h2v-20.0zM21 468.8v23.9h2v-23.9zM24 468.8v22.2h2v-22.2zM27 469.7v25.0h2v-25.0zM31 473.0v29.7h2v-29.7zM34 473.0v26.7h2v-26.7zM37 472.2v24.5h2v-24.5zM40 472.2v21.6h2v-21.6zM44 472.2v17.5h2v-17.5zM47 472.2v24.5h2v-24.5zM50 472.2v25.5h2v-25.5zM53 472.2v24.5h2v-24.5zM57 472.2v22.5h2v-22.5zM60 473.0v23.7h2v-23.7zM63 473.8v20.0h2v-20.0zM67 473.8v14.2h2v-14.2zM70 473.8v18.9h2v-18.9zM73 474.7v22.0h2v-22.0zM76 474.7v25.0h2v-25.0zM80 475.5v29.2h2v-29.2zM83 474.7v32.5h2v-32.5zM86 474.7v35.8h2v-35.8zM90 474.7v33.0h2v-33.0zM93 475.5v33.3h2v-33.3zM96 476.3v32.0h2v-32.0zM99 476.3v30.4h2v-30.4zM103 463.0v25.8h2v-25.8zM106 462.2v26.3h2v-26.3zM109 462.7v25.0h2v-25.0zM112 463.8v24.7h2v-24.7zM116 463.3v20.5h2v-20.5zM119 463.3v19.4h2v-19.4zM122 464.2v20.5h2v-20.5zM126 464.2v18.5h2v-18.5zM129 464.7v16.6h2v-16.6zM132 466.0v23.7h2v-23.7zM135 466.7v20.0h2v-20.0zM139 467.2v23.6h2v-23.6zM142 467.7v21.1h2v-21.1zM145 468.0v20.5h2v-20.5zM149 468.3v19.4h2v-19.4zM152 468.8v19.7h2v-19.7zM155 469.7v23.0h2v-23.0zM158 470.5v25.3h2v-25.3zM162 471.0v26.7h2v-26.7zM165 471.7v30.0h2v-30.0zM168 472.7v35.0h2v-35.0zM171 473.0v35.8h2v-35.8zM175 463.8v35.9h2v-35.9zM178 472.2v28.3h2v-28.3zM181 471.3v26.4h2v-26.4zM185 470.5v29.2h2v-29.2zM188 470.5v25.3h2v-25.3zM191 470.5v22.2h2v-22.2zM194 473.0v22.8h2v-22.8zM198 473.8v22.9h2v-22.9zM201 475.5v27.2h2v-27.2zM204 474.7v27.0h2v-27.0zM208 476.3v28.4h2v-28.4zM211 475.5v28.3h2v-28.3zM214 474.7v30.0h2v-30.0zM217 474.7v29.1h2v-29.1zM221 475.5v32.2h2v-32.2zM224 476.3v33.4h2v-33.4zM227 476.7v34.3h2v-34.3zM231 478.0v35.3h2v-35.3zM234 478.0v36.7h2v-36.7zM237 478.0v40.8h2v-40.8zM240 477.7v39.0h2v-39.0zM244 478.8v32.2h2v-32.2zM247 479.7v37.0h2v-37.0zM250 479.7v41.1h2v-41.1zM253 479.7v36.3h2v-36.3zM257 480.5v29.2h2v-29.2zM260 481.3v33.4h2v-33.4zM263 481.3v46.7h2v-46.7zM267 481.3v44.7h2v-44.7zM270 481.3v39.5h2v-39.5zM273 482.2v42.8h2v-42.8zM276 480.5v46.3h2v-46.3zM280 473.8v40.9h2v-40.9zM283 475.5v37.8h2v-37.8zM286 476.3v36.4h2v-36.4zM290 476.3v39.7h2v-39.7zM293 477.2v39.5h2v-39.5zM296 477.2v34.1h2v-34.1zM299 476.3v34.7h2v-34.7zM303 474.7v31.1h2v-31.1zM306 475.5v31.2h2v-31.2zM309 475.5v31.2h2v-31.2zM312 474.7v32.0h2v-32.0zM316 473.0v31.7h2v-31.7zM319 472.2v35.5h2v-35.5zM322 472.2v30.5h2v-30.5zM326 472.7v28.3h2v-28.3zM329 472.2v28.8h2v-28.8zM332 472.2v28.8h2v-28.8zM335 472.7v31.1h2v-31.1zM339 473.0v32.8h2v-32.8zM342 473.0v28.7h2v-28.7zM345 473.8v27.2h2v-27.2zM349 475.5v34.2h2v-34.2zM352 477.2v38.8h2v-38.8zM355 478.8v38.9h2v-38.9zM358 480.0v38.8h2v-38.8zM362 481.0v35.7h2v-35.7zM365 478.0v30.8h2v-30.8zM368 473.0v24.7h2v-24.7zM372 469.7v20.0h2v-20.0zM375 468.3v17.2h2v-17.2zM378 468.0v18.7h2v-18.7zM381 468.0v19.7h2v-19.7zM385 468.0v19.7h2v-19.7zM388 467.7v17.0h2v-17.0zM391 467.7v17.0h2v-17.0zM394 467.7v16.1h2v-16.1zM398 467.7v16.1h2v-16.1zM401 467.2v15.0h2v-15.0zM404 466.3v13.4h2v-13.4zM408 464.2v11.3h2v-11.3zM411 464.2v11.8h2v-11.8zM414 462.2v11.6h2v-11.6zM417 460.5v11.7h2v-11.7zM421 459.7v12.5h2v-12.5zM424 458.8v10.9h2v-10.9zM427 457.2v10.0h2v-10.0zM431 456.3v10.4h2v-10.4zM434 456.0v10.0h2v-10.0zM437 456.3v10.4h2v-10.4zM440 456.0v10.0h2v-10.0zM444 456.3v9.7h2v-9.7zM447 457.2v10.8h2v-10.8zM450 457.7v10.3h2v-10.3zM453 458.0v10.8h2v-10.8zM457 458.8v12.0h2v-12.0zM460 459.3v12.4h2v-12.4zM463 459.7v11.1h2v-11.1zM467 460.0v11.7h2v-11.7zM470 460.5v12.5h2v-12.5zM473 459.3v11.5h2v-11.5zM476 458.8v11.2h2v-11.2zM480 459.3v12.0h2v-12.0zM483 461.0v14.5h2v-14.5zM486 461.3v15.4h2v-15.4zM490 461.0v13.7h2v-13.7zM493 461.0v13.7h2v-13.7zM496 461.7v15.0h2v-15.0zM499 462.2v15.8h2v-15.8zM503 462.7v15.3h2v-15.3zM506 463.3v17.5h2v-17.5zM509 463.8v17.0h2v-17.0zM512 464.2v16.6h2v-16.6zM516 464.7v16.6h2v-16.6zM519 465.0v17.2h2v-17.2zM522 465.5v17.5h2v-17.5zM526 467.2v19.5h2v-19.5zM529 467.7v18.3h2v-18.3zM532 467.7v17.0h2v-17.0zM535 467.7v18.3h2v-18.3zM539 467.7v20.0h2v-20.0zM542 467.7v20.3h2v-20.3zM545 467.7v20.0h2v-20.0zM549 468.0v19.7h2v-19.7zM552 469.7v22.0h2v-22.0zM555 470.5v22.2h2v-22.2zM558 472.7v24.0h2v-24.0zM562 473.8v23.9h2v-23.9zM565 475.0v24.7h2v-24.7zM568 474.7v22.0h2v-22.0zM572 477.2v25.5h2v-25.5zM575 477.7v25.0h2v-25.0zM578 478.0v27.8h2v-27.8zM581 476.7v27.1h2v-27.1zM585 473.0v24.7h2v-24.7zM588 471.7v23.0h2v-23.0zM591 469.7v18.3h2v-18.3zM594 470.5v18.3h2v-18.3zM598 471.8v16.6h2v-16.6zM601 473.0v15.0h2v-15.0zM604 471.3v16.7h2v-16.7zM608 469.7v21.3h2v-21.3zM611 473.0v23.7h2v-23.7zM614 471.3v24.5h2v-24.5zM617 469.3v17.4h2v-17.4zM621 469.3v16.7h2v-16.7zM624 468.3v15.5h2v-15.5zM627 468.3v21.4h2v-21.4zM631 467.2v19.5h2v-19.5zM634 466.0v20.0h2v-20.0zM637 464.7v24.1h2v-24.1zM640 463.8v19.2h2v-19.2zM644 462.7v19.1h2v-19.1zM647 462.2v20.8h2v-20.8zM650 463.0v23.7h2v-23.7zM653 464.2v26.6h2v-26.6zM657 464.7v26.1h2v-26.1zM660 464.7v26.1h2v-26.1zM663 463.8v22.2h2v-22.2zM667 463.8v22.9h2v-22.9zM670 464.2v24.6h2v-24.6zM673 464.7v23.3h2v-23.3zM676 465.5v23.3h2v-23.3zM680 467.2v23.6h2v-23.6zM683 468.0v23.7h2v-23.7zM686 470.5v22.2h2v-22.2zM690 472.7v24.0h2v-24.0zM693 473.0v22.8h2v-22.8zM696 473.8v20.0h2v-20.0zM699 473.8v20.9h2v-20.9zM703 479.7v23.0h2v-23.0zM706 480.0v21.7h2v-21.7zM709 478.8v22.2h2v-22.2zM712 477.7v20.0h2v-20.0zM716 476.3v19.5h2v-19.5zM719 474.7v24.1h2v-24.1zM722 474.7v28.0h2v-28.0zM726 475.5v31.2h2v-31.2zM729 475.5v37.2h2v-37.2zM732 475.5v38.3h2v-38.3zM735 474.7v40.0h2v-40.0zM739 474.3v38.4h2v-38.4zM742 473.8v35.9h2v-35.9zM745 473.0v33.7h2v-33.7zM749 471.3v26.4h2v-26.4zM752 473.8v27.2h2v-27.2zM755 477.2v29.5h2v-29.5zM758 480.5v33.3h2v-33.3zM762 481.3v33.4h2v-33.4zM765 480.0v27.7h2v-27.7zM768 481.3v28.4h2v-28.4zM772 487.2v32.5h2v-32.5zM775 486.7v30.0h2v-30.0zM778 485.5v32.2h2v-32.2zM781 483.0v29.7h2v-29.7zM785 480.5v26.2h2v-26.2zM788 480.5v26.2h2v-26.2zM791 480.0v25.8h2v-25.8zM794 478.8v20.9h2v-20.9zM798 479.7v20.8h2v-20.8zM801 478.8v27.0h2v-27.0zM804 477.2v21.6h2v-21.6zM808 480.5v20.5h2v-20.5zM811 482.2v24.5h2v-24.5zM814 483.8v20.0h2v-20.0zM817 484.3v18.4h2v-18.4zM821 485.0v16.7h2v-16.7zM824 486.0v13.7h2v-13.7zM827 487.2v15.5h2v-15.5zM831 488.8v17.9h2v-17.9zM834 487.2v16.6h2v-16.6zM837 487.2v16.6h2v-16.6zM840 488.0v17.8h2v-17.8zM844 488.8v20.0h2v-20.0zM847 487.2v23.8h2v-23.8zM850 487.2v21.6h2v-21.6zM853 489.7v24.1h2v-24.1zM857 488.8v22.5h2v-22.5zM860 485.5v22.2h2v-22.2zM863 487.2v26.6h2v-26.6zM867 489.7v28.0h2v-28.0zM870 488.0v24.7h2v-24.7zM873 488.0v28.0h2v-28.0zM876 488.0v28.7h2v-28.7zM880 487.2v28.8h2v-28.8zM883 486.7v26.0h2v-26.0zM886 486.3v21.4h2v-21.4zM890 487.2v23.8h2v-23.8zM893 486.7v21.0h2v-21.0zM896 488.8v20.0h2v-20.0zM899 498.0v32.0h2v-32.0zM903 497.7v34.1h2v-34.1zM906 497.2v33.6h2v-33.6zM909 497.2v37.8h2v-37.8zM913 498.0v35.0h2v-35.0zM916 497.2v36.6h2v-36.6zM919 493.8v30.0h2v-30.0zM922 488.0v23.8h2v-23.8zM926 487.2v16.6h2v-16.6zM929 491.7v19.3h2v-19.3zM932 493.3v22.7h2v-22.7zM935 495.0v23.8h2v-23.8zM939 499.7v25.3h2v-25.3zM942 503.8v26.2h2v-26.2zM945 506.3v24.5h2v-24.5zM949 511.3v31.7h2v-31.7zM952 514.7v39.1h2v-39.1zM955 512.2v38.8h2v-38.8zM958 512.2v32.5h2v-32.5zM962 503.8v35.0h2v-35.0zM965 495.5v31.3h2v-31.3zM968 498.8v34.2h2v-34.2zM972 501.7v40.1h2v-40.1zM975 504.7v35.3h2v-35.3zM978 506.7v32.1h2v-32.1zM981 508.8v40.0h2v-40.0zM985 505.5v41.3h2v-41.3zM988 502.2v36.6h2v-36.6zM991 499.7v31.1h2v-31.1zM994 496.3v30.5h2v-30.5zM998 493.0v24.7h2v-24.7zM1001 487.8v27.9h2v-27.9zM1004 482.9v24.9h2v-24.9zM1008 480.4v28.2h2v-28.2zM1011 479.9v27.0h2v-27.0zM1014 480.4v27.4h2v-27.4zM1017 483.7v26.0h2v-26.0zM1021 492.8v36.9h2v-36.9zM1024 495.3v38.5h2v-38.5zM1027 492.0v45.6h2v-45.6zM1031 494.5v32.0h2v-32.0zM1034 499.5v41.4h2v-41.4zM1037 500.3v55.6h2v-55.6zM1040 493.6v41.0h2v-41.0zM1044 490.8v28.9h2v-28.9zM1047 488.7v34.8h2v-34.8zM1050 494.5v38.1h2v-38.1zM1053 495.3v35.2h2v-35.2zM1057 501.1v40.7h2v-40.7zM1060 502.8v51.9h2v-51.9zM1063 505.3v42.3h2v-42.3zM1067 510.2v40.4h2v-40.4zM1070 511.1v35.7h2v-35.7zM1073 503.6v40.2h2v-40.2zM1076 504.4v43.2h2v-43.2zM1080 506.9v49.8h2v-49.8zM1083 507.8v40.9h2v-40.9z"/></g><g fill="#fff" shape-rendering="crispEdges"><rect x="1108" y="138" width="2" height="458"/><rect x="0" y="594" width="1110" height="2"/><rect x="158" y="596" width="1" height="51"/><rect x="329" y="596" width="1" height="51"/><rect x="499" y="596" width="1" height="51"/><rect x="673" y="596" width="1" height="51"/><rect x="844" y="596" width="1" height="51"/><rect x="1014" y="596" width="1" height="51"/><rect x="31" y="596" width="1" height="4"/><rect x="74" y="596" width="1" height="4"/><rect x="116" y="596" width="1" height="4"/><rect x="201" y="596" width="1" height="4"/><rect x="244" y="596" width="1" height="4"/><rect x="286" y="596" width="1" height="4"/><rect x="372" y="596" width="1" height="4"/><rect x="415" y="596" width="1" height="4"/><rect x="457" y="596" width="1" height="4"/><rect x="542" y="596" width="1" height="4"/><rect x="585" y="596" width="1" height="4"/><rect x="627" y="596" width="1" height="4"/><rect x="712" y="596" width="1" height="4"/><rect x="756" y="596" width="1" height="4"/><rect x="801" y="596" width="1" height="4"/><rect x="886" y="596" width="1" height="4"/><rect x="929" y="596" width="1" height="4"/><rect x="972" y="596" width="1" height="4"/><rect x="1057" y="596" width="1" height="4"/><rect x="1100" y="596" width="1" height="4"/><rect x="1110" y="541" width="3" height="1"/><rect x="1110" y="480" width="3" height="1"/><rect x="1110" y="420" width="3" height="1"/><rect x="1110" y="359" width="3" height="1"/><rect x="1110" y="299" width="3" height="1"/><rect x="1110" y="238" width="3" height="1"/><rect x="1110" y="178" width="3" height="1"/></g><g fill="#fff"><path d="M1109 145.3L1116.5 148.5L1109 151.7z"/><path d="M1109 205.3L1116.5 208.5L1109 211.7z"/><path d="M1109 266.3L1116.5 269.5L1109 272.7z"/><path d="M1109 326.3L1116.5 329.5L1109 332.7z"/><path d="M1109 387.3L1116.5 390.5L1109 393.7z"/><path d="M1109 447.3L1116.5 450.5L1109 453.7z"/><path d="M1109 508.3L1116.5 511.5L1109 514.7z"/><path d="M1109 568.3L1116.5 571.5L1109 574.7z"/></g></svg>
<div id="title" class="t">Investors Make Record Bets on Higher Copper Prices</div>
<div id="sub" class="t">Surging investor inflows helped lift prices to record highs this year</div>
<div class="sw" style="left:9px;top:94px;background:#7391c3;border-color:#98a6cc"></div><div class="lg" style="left:25.2px;top:92px;transform:none;word-spacing:0.15px">Value of short positions in LME copper held by investment funds</div>
<div class="sw" style="left:9px;top:114px;background:#31be6e;border-color:#5cc88b"></div><div class="lg" style="left:24.2px;top:112px">Comex investment fund copper longs</div>
<div class="sw" style="left:573px;top:94px;background:#52d9e8;border-color:#86e0ea"></div><div class="lg" style="left:589.8px;top:92px;transform:none;word-spacing:0.12px">Value of long positions in LME copper held by investment funds</div>
<div class="sw" style="left:573px;top:114px;background:#6f6f6f;border-color:#8b8b8b"></div><div class="lg" style="left:588.7px;top:112px">Comex investment fund copper shorts</div>
<div class="yl" style="top:139.7px">50B</div><div class="yl" style="top:197.0px">40B</div><div class="yl" style="top:258.0px">30B</div><div class="yl" style="top:318.0px">20B</div><div class="yl" style="top:379.0px">10B</div><div class="yl" style="top:439.0px">0</div><div class="yl" style="top:500.0px"><span style="display:inline-block;transform:scaleX(1.35);transform-origin:0 50%;margin-left:1.5px;margin-right:3.2px;position:relative;top:-1px">-</span>10B</div><div class="yl" style="top:560.0px"><span style="display:inline-block;transform:scaleX(1.35);transform-origin:0 50%;margin-left:1.5px;margin-right:3.2px;position:relative;top:-1px">-</span>20B</div>
<div class="xl" style="left:40.0px">2018</div><div class="xl" style="left:203.7px">2019</div><div class="xl" style="left:374.0px">2020</div><div class="xl" style="left:545.7px">2021</div><div class="xl" style="left:717.8px">2022</div><div class="xl" style="left:889.0px">2023</div><div class="xl" style="left:1020.3px">2024</div>
<div id="usd"><span>US dollars</span></div>
<div id="src" class="t">Source: LME, CME Group, Bloomberg</div>
<div id="bb" class="t">Bloomberg</div>
<svg style="position:absolute;left:1170px;top:640px" width="30" height="35" viewBox="1170 640 30 35">
<path fill="#fff" d="M1180.300 649.100h14.300a1.700 1.700 0 0 1 1.700 1.700v14.500a1.700 1.700 0 0 1-1.700 1.700h-5.100l-2.200 3-2.200-3h-4.800a1.700 1.700 0 0 1-1.700-1.700v-14.500a1.700 1.700 0 0 1 1.700-1.700z"/>
<g fill="#000"><rect x="1181.200" y="658.900" width="1.600" height="3.900"/><rect x="1184.800" y="656.100" width="1.600" height="6.700"/><rect x="1188.200" y="654" width="1.600" height="8.800"/><rect x="1191.800" y="658.900" width="1.600" height="3.900"/></g>
</svg>
</body></html>
